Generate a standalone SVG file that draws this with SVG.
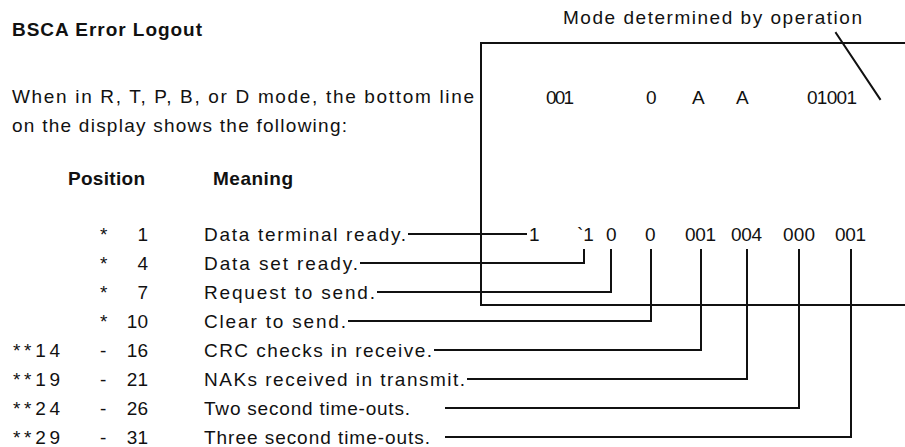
<svg xmlns="http://www.w3.org/2000/svg" width="905" height="447" viewBox="0 0 905 447">
<style>
  text { font-family: "Liberation Sans", Arial, sans-serif; font-size: 19px; fill: #111; }
  .b { font-weight: bold; }
  .e { text-anchor: end; }
  .ln { stroke: #111; stroke-width: 2; fill: none; stroke-linecap: square; }
</style>
<rect width="905" height="447" fill="#fff"/>

<g id="title"><text class="b" x="12" y="36" textLength="190" lengthAdjust="spacing">BSCA Error Logout</text></g>
<g id="intro">
  <text x="12" y="103" textLength="462" lengthAdjust="spacing">When in R, T, P, B, or D mode, the bottom line</text>
  <text x="12" y="132" textLength="335" lengthAdjust="spacing">on the display shows the following:</text>
</g>
<g id="headers">
  <text class="b" x="68" y="185" textLength="77" lengthAdjust="spacing">Position</text>
  <text class="b" x="213" y="185" textLength="80" lengthAdjust="spacing">Meaning</text>
</g>

<g id="display">
  <text x="563" y="24" textLength="299" lengthAdjust="spacing">Mode determined by operation</text>
  <text x="546" y="104" textLength="28" lengthAdjust="spacing">001</text>
  <text x="646" y="104">0</text>
  <text x="692" y="104">A</text>
  <text x="736" y="104">A</text>
  <text x="807" y="104" textLength="50" lengthAdjust="spacing">01001</text>
  <path class="ln" d="M905 43 H481 V305 H905"/>
  <path class="ln" d="M836 33 L880 99"/>
  <text x="529" y="241">1</text>
  <text x="577" y="241">`1</text>
  <text x="606" y="241">0</text>
  <text x="645" y="241">0</text>
  <text x="685" y="241" textLength="31" lengthAdjust="spacing">001</text>
  <text x="731" y="241" textLength="31" lengthAdjust="spacing">004</text>
  <text x="783" y="241" textLength="32" lengthAdjust="spacing">000</text>
  <text x="835" y="241" textLength="31" lengthAdjust="spacing">001</text>
</g>

<g id="row1"><text x="100" y="241">*</text><text class="e" x="148" y="241">1</text><text x="204" y="241" textLength="202" lengthAdjust="spacing">Data terminal ready.</text></g>
<g id="row2"><text x="100" y="270">*</text><text class="e" x="148" y="270">4</text><text x="204" y="270" textLength="154" lengthAdjust="spacing">Data set ready.</text></g>
<g id="row3"><text x="100" y="299">*</text><text class="e" x="148" y="299">7</text><text x="204" y="299" textLength="171" lengthAdjust="spacing">Request to send.</text></g>
<g id="row4"><text x="100" y="328">*</text><text class="e" x="148" y="328">10</text><text x="204" y="328" textLength="142" lengthAdjust="spacing">Clear to send.</text></g>
<g id="row5"><text x="13" y="357" textLength="47" lengthAdjust="spacing">**14</text><text x="100" y="357">-</text><text class="e" x="148" y="357">16</text><text x="204" y="357" textLength="228" lengthAdjust="spacing">CRC checks in receive.</text></g>
<g id="row6"><text x="13" y="386" textLength="47" lengthAdjust="spacing">**19</text><text x="100" y="386">-</text><text class="e" x="148" y="386">21</text><text x="204" y="386" textLength="261" lengthAdjust="spacing">NAKs received in transmit.</text></g>
<g id="row7"><text x="13" y="415" textLength="47" lengthAdjust="spacing">**24</text><text x="100" y="415">-</text><text class="e" x="148" y="415">26</text><text x="204" y="415" textLength="206" lengthAdjust="spacing">Two second time-outs.</text></g>
<g id="row8"><text x="13" y="444" textLength="47" lengthAdjust="spacing">**29</text><text x="100" y="444">-</text><text class="e" x="148" y="444">31</text><text x="204" y="444" textLength="226" lengthAdjust="spacing">Three second time-outs.</text></g>

<g id="connectors">
  <path class="ln" d="M409 234 H526"/>
  <path class="ln" d="M361 263 H584 V250"/>
  <path class="ln" d="M378 292 H611 V250"/>
  <path class="ln" d="M349 321 H651 V250"/>
  <path class="ln" d="M435 350 H701 V250"/>
  <path class="ln" d="M468 379 H747 V250"/>
  <path class="ln" d="M446 408 H799 V250"/>
  <path class="ln" d="M446 437 H851 V250"/>
</g>
</svg>
